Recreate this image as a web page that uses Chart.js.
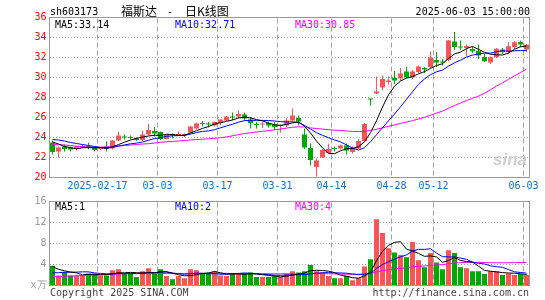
<!DOCTYPE html>
<html>
<head>
<meta charset="utf-8">
<script src="https://cdn.jsdelivr.net/npm/chart.js@4.4.1/dist/chart.umd.min.js"></script>
<style>
  html,body{margin:0;padding:0;background:#fff;}
  body{width:545px;height:300px;position:relative;overflow:hidden;}
  canvas{position:absolute;left:0;}
  .t{position:absolute;white-space:pre;font-family:"DejaVu Sans Mono",monospace;font-size:10px;line-height:12px;color:#000;}
  .cjk{position:absolute;white-space:pre;font-family:"Noto Sans CJK SC",sans-serif;font-size:12px;line-height:14px;color:#000;}
</style>
</head>
<body>
<canvas id="price" width="545" height="195" style="top:0"></canvas>
<canvas id="vol" width="545" height="110" style="top:190px"></canvas>

<div class="t" style="left:50px;top:6px">sh603173</div>
<div class="cjk" style="left:121px;top:4px">福斯达</div>
<div class="t" style="left:167px;top:6px">-</div>
<div class="cjk" style="left:185px;top:4px">日K线图</div>
<div class="t" style="right:15px;top:6px">2025-06-03 15:00:00</div>
<div class="t" style="left:55px;top:19px;color:#000">MA5:33.14</div>
<div class="t" style="left:175px;top:19px;color:#0000ff">MA10:32.71</div>
<div class="t" style="left:295px;top:19px;color:#ff00ff">MA30:30.85</div>
<div class="t" style="left:55px;top:201px;color:#000">MA5:1</div>
<div class="t" style="left:175px;top:201px;color:#0000ff">MA10:2</div>
<div class="t" style="left:295px;top:201px;color:#ff00ff">MA30:4</div>
<div class="t" style="left:50px;top:287px;color:#444">Copyright 2025 SINA.COM</div>
<div class="t" style="right:16px;top:287px;color:#444">http://finance.sina.com.cn</div>
<div style="position:absolute;left:493px;top:150px;font-family:'Liberation Sans',sans-serif;font-style:italic;font-weight:bold;font-size:17px;color:#cfcfcf;">sina</div>

<script>
const dates = [
 '2025-02-05','2025-02-06','2025-02-07','2025-02-10','2025-02-11','2025-02-12','2025-02-13','2025-02-14','2025-02-17','2025-02-18',
 '2025-02-19','2025-02-20','2025-02-21','2025-02-24','2025-02-25','2025-02-26','2025-02-27','2025-02-28','2025-03-03','2025-03-04',
 '2025-03-05','2025-03-06','2025-03-07','2025-03-10','2025-03-11','2025-03-12','2025-03-13','2025-03-14','2025-03-17','2025-03-18',
 '2025-03-19','2025-03-20','2025-03-21','2025-03-24','2025-03-25','2025-03-26','2025-03-27','2025-03-28','2025-03-31','2025-04-01',
 '2025-04-02','2025-04-03','2025-04-07','2025-04-08','2025-04-09','2025-04-10','2025-04-11','2025-04-14','2025-04-15','2025-04-16',
 '2025-04-17','2025-04-18','2025-04-21','2025-04-22','2025-04-23','2025-04-24','2025-04-25','2025-04-28','2025-04-29','2025-04-30',
 '2025-05-06','2025-05-07','2025-05-08','2025-05-09','2025-05-12','2025-05-13','2025-05-14','2025-05-15','2025-05-16','2025-05-19',
 '2025-05-20','2025-05-21','2025-05-22','2025-05-23','2025-05-26','2025-05-27','2025-05-28','2025-05-29','2025-05-30','2025-06-03'
];
const tickDates  = ['2025-02-17','2025-03-03','2025-03-17','2025-03-31','2025-04-14','2025-04-28','2025-05-12','2025-06-03'];
const tickLabels = ['2025-02-17','03-03','03-17','03-31','04-14','04-28','05-12','06-03'];

const opens = [
 23.5,22.6,23.1,23.0,22.85,23.0,23.1,23.0,22.85,23.1,
 22.9,23.7,24.05,24.0,23.9,23.75,24.3,24.65,24.55,23.85,
 24.25,24.2,24.2,24.5,24.9,25.4,25.35,25.2,25.45,25.7,
 26.05,26.1,26.3,25.8,25.3,25.3,25.45,25.3,25.15,25.2,
 25.7,25.95,24.3,22.95,21.05,22.0,22.45,22.9,22.9,23.2,
 22.55,22.9,23.65,27.9,28.4,29.0,29.55,29.95,29.9,30.6,
 30.0,30.55,30.95,31.05,31.75,31.6,31.75,33.6,33.05,32.95,
 32.85,32.65,32.05,31.5,32.05,32.8,32.55,33.05,33.55,32.8
];
const highs = [
 23.7,23.1,23.3,23.1,23.2,23.3,23.5,23.1,23.05,23.6,
 23.75,24.55,24.3,24.2,24.0,24.7,25.35,25.05,24.6,24.35,
 24.4,24.6,24.4,25.15,25.5,25.65,25.55,25.6,25.85,26.15,
 26.5,26.7,26.5,26.05,25.55,25.6,25.6,25.55,25.3,25.95,
 26.9,26.2,24.9,23.4,21.9,22.85,23.4,23.1,23.3,23.4,
 23.1,23.85,25.45,27.9,30.1,30.2,30.1,30.65,30.95,31.05,
 30.75,31.2,31.05,32.6,32.55,31.85,33.75,34.55,33.7,33.3,
 33.1,33.3,32.35,32.1,32.95,32.95,33.55,33.65,33.7,33.35
];
const lows = [
 22.3,22.0,22.6,22.6,22.7,22.9,22.8,22.6,22.75,22.6,
 22.8,23.65,23.8,23.8,23.65,23.65,24.2,24.1,23.75,23.8,
 23.9,24.15,24.05,24.4,24.8,25.1,25.0,25.1,25.2,25.65,
 25.75,25.9,25.7,24.9,24.9,24.95,25.0,24.7,24.5,25.05,
 25.6,25.2,22.85,21.2,20.1,21.95,22.4,22.6,22.8,22.3,
 22.4,22.85,23.55,27.2,28.35,28.7,29.3,29.35,29.7,29.9,
 29.85,30.45,30.45,30.95,31.05,31.2,31.6,32.75,32.75,32.1,
 32.45,31.85,31.55,31.35,31.95,32.3,32.4,32.85,33.05,32.55
];
const closes = [
 22.55,23.0,22.85,22.8,23.1,23.15,23.05,22.75,22.95,22.85,
 23.7,24.2,24.0,23.95,23.75,24.3,24.75,24.4,23.85,24.3,
 24.2,24.35,24.35,25.1,25.4,25.35,25.3,25.55,25.8,26.1,
 26.0,26.35,25.9,25.45,25.25,25.4,25.2,25.05,25.2,25.7,
 26.2,25.6,23.0,21.75,21.7,22.75,22.85,22.85,23.2,22.7,
 22.95,23.65,25.35,27.8,28.6,29.85,29.7,29.7,30.4,30.05,
 30.6,31.1,30.8,32.0,31.5,31.5,33.7,33.05,33.0,33.15,
 32.63,32.2,31.63,32.03,32.87,32.53,33.13,33.53,33.3,33.27
];
const volumes = [
 3.75,1.9,2.6,1.9,1.9,1.9,2.3,2.3,1.9,1.9,
 2.9,3.1,2.3,2.3,1.6,2.7,3.3,2.3,3.1,1.8,
 1.2,1.8,1.4,3.1,2.9,2.3,2.3,2.7,1.9,1.8,
 2.3,2.3,2.3,2.5,1.6,1.6,1.6,1.8,1.6,2.3,
 2.7,2.5,2.7,3.9,2.7,2.5,1.8,1.4,1.4,1.8,
 1.0,1.4,3.6,5.0,12.6,10.0,7.1,6.3,5.8,5.4,
 8.3,4.8,3.5,6.2,4.4,3.1,6.7,6.2,3.5,3.3,
 2.7,2.7,2.2,2.7,2.7,2.0,2.3,2.0,2.2,2.0
];
const ma5 = [
 23.55,23.35,23.1,23.0,22.86,22.98,22.99,22.97,23.0,22.95,
 23.06,23.29,23.54,23.74,23.92,24.04,24.15,24.23,24.21,24.32,
 24.3,24.22,24.21,24.46,24.68,24.91,25.1,25.34,25.48,25.62,
 25.75,25.96,26.03,25.96,25.79,25.67,25.44,25.27,25.22,25.31,
 25.47,25.55,25.14,24.45,23.65,22.96,22.41,22.38,22.67,22.87,
 22.91,23.07,23.57,24.49,25.67,27.05,28.26,29.13,29.65,29.94,
 30.09,30.37,30.59,30.91,31.2,31.38,31.9,32.35,32.55,32.88,
 33.11,32.81,32.52,32.33,32.27,32.25,32.44,32.82,33.07,33.15
];
const ma10 = [
 23.8,23.75,23.65,23.5,23.4,23.3,23.2,23.1,23.0,22.91,
 23.02,23.14,23.26,23.37,23.44,23.55,23.72,23.89,23.98,24.12,
 24.17,24.19,24.22,24.34,24.5,24.61,24.66,24.78,24.97,25.15,
 25.33,25.53,25.69,25.72,25.71,25.71,25.7,25.65,25.59,25.55,
 25.57,25.5,25.21,24.84,24.48,24.22,23.98,23.76,23.56,23.26,
 22.94,22.74,22.98,23.58,24.27,24.98,25.67,26.35,27.07,27.81,
 28.57,29.32,29.86,30.28,30.57,30.74,31.14,31.47,31.73,32.04,
 32.24,32.35,32.44,32.44,32.58,32.68,32.62,32.67,32.7,32.71
];
const ma30 = [
 23.3,23.28,23.25,23.2,23.12,23.08,23.05,23.03,23.03,23.05,
 23.1,23.15,23.2,23.25,23.3,23.35,23.38,23.45,23.52,23.57,
 23.6,23.65,23.7,23.76,23.8,23.83,23.87,23.92,23.98,24.06,
 24.17,24.29,24.39,24.48,24.55,24.62,24.69,24.77,24.85,24.94,
 25.02,25.07,25.04,24.96,24.9,24.84,24.78,24.73,24.71,24.65,
 24.61,24.59,24.62,24.71,24.82,24.97,25.12,25.25,25.41,25.54,
 25.69,25.85,26.01,26.23,26.44,26.64,26.93,27.19,27.45,27.7,
 27.92,28.14,28.42,28.77,29.14,29.46,29.81,30.16,30.5,30.85
];
const volMa5 = [
 3.6,3.1,2.8,2.55,2.41,2.04,2.12,2.06,2.06,2.06,
 2.26,2.42,2.42,2.5,2.44,2.4,2.44,2.44,2.6,2.64,
 2.34,2.04,1.86,1.86,2.08,2.3,2.4,2.66,2.42,2.2,
 2.2,2.2,2.12,2.24,2.2,2.06,1.92,1.82,1.64,1.78,
 2.0,2.18,2.36,2.82,2.9,2.86,2.72,2.46,1.96,1.78,
 1.48,1.4,1.84,2.56,4.72,6.52,7.66,8.2,8.36,6.92,
 6.58,6.12,5.56,5.64,5.44,4.4,4.78,5.32,4.78,4.56,
 4.48,3.68,2.88,2.72,2.6,2.46,2.38,2.34,2.24,2.1
];
const volMa10 = [
 2.4,2.45,2.5,2.55,2.55,2.6,2.6,2.4,2.3,2.24,
 2.15,2.27,2.24,2.28,2.25,2.33,2.43,2.43,2.55,2.54,
 2.37,2.24,2.15,2.23,2.36,2.32,2.22,2.26,2.14,2.14,
 2.25,2.3,2.39,2.33,2.2,2.13,2.06,1.97,1.94,1.99,
 2.03,2.05,2.09,2.23,2.34,2.43,2.45,2.41,2.39,2.34,
 2.17,2.06,2.15,2.26,3.25,4.0,4.53,5.02,5.46,5.82,
 6.55,6.89,6.88,7.0,6.18,5.49,5.45,5.44,5.21,5.0,
 4.44,4.23,4.1,3.75,3.58,3.47,3.03,2.61,2.48,2.35
];
const volMa30 = [
 1.65,1.7,1.75,1.8,1.85,1.9,1.95,2.0,2.05,2.1,
 2.15,2.2,2.25,2.28,2.3,2.3,2.3,2.3,2.3,2.3,
 2.3,2.3,2.3,2.3,2.3,2.3,2.3,2.3,2.3,2.31,
 2.26,2.27,2.26,2.28,2.27,2.26,2.24,2.22,2.21,2.22,
 2.22,2.2,2.21,2.26,2.3,2.29,2.24,2.21,2.16,2.16,
 2.15,2.14,2.21,2.27,2.6,2.85,3.01,3.13,3.26,3.38,
 3.58,3.67,3.71,3.83,3.92,3.97,4.14,4.29,4.35,4.39,
 4.39,4.39,4.38,4.34,4.34,4.32,4.34,4.36,4.38,4.39
];

const RED = '#f65656', GREEN = '#00a800';
const barColors = closes.map((c, i) => c >= opens[i] ? RED : GREEN);
const tickIdx = tickDates.map(d => dates.indexOf(d));
const MONO = '"DejaVu Sans Mono", monospace';

// dashed date grid lines (at the left edge of each labelled day), placed with the x scale
function drawDateLines(chart) {
  const { ctx, chartArea: a } = chart;
  const xs = chart.scales.x;
  const w = (a.right - a.left) / dates.length;
  ctx.save();
  ctx.strokeStyle = '#a0a0a0';
  ctx.lineWidth = 1;
  ctx.setLineDash([5, 3]);
  for (let k = 0; k < tickIdx.length; k++) {
    const x = Math.round(xs.getPixelForTick(tickIdx[k]) - w / 2) - 0.5;
    ctx.beginPath();
    ctx.moveTo(x, a.top + 1);
    ctx.lineTo(x, a.bottom);
    ctx.stroke();
  }
  ctx.restore();
}

const framePlugin = {
  id: 'frame',
  beforeDatasetsDraw(chart) { drawDateLines(chart); },
  afterDraw(chart) {
    const { ctx, chartArea: a } = chart;
    ctx.save();
    ctx.strokeStyle = '#999999';
    ctx.lineWidth = 1;
    ctx.strokeRect(a.left, a.top, a.right - a.left, a.bottom - a.top);
    ctx.restore();
  }
};

function xScale(showLabels, h) {
  return {
    type: 'category',
    offset: true,
    grid: { display: false, offset: true, drawTicks: false },
    border: { display: false },
    ticks: {
      display: showLabels, autoSkip: false, maxRotation: 0, minRotation: 0,
      padding: 3, labelOffset: -3, color: '#1a6fc0',
      font: { family: MONO, size: 10 },
      callback: (v, i) => { const k = tickDates.indexOf(dates[i]); return k >= 0 ? tickLabels[k] : ''; }
    },
    afterFit: s => { s.height = h; }
  };
}

function line(data, color) {
  return { type: 'line', data, borderColor: color, borderWidth: 1, pointRadius: 0, fill: false, tension: 0 };
}

new Chart(document.getElementById('price'), {
  type: 'bar',
  data: {
    labels: dates,
    datasets: [
      line(ma5, '#000000'),
      line(ma10, '#0000ff'),
      line(ma30, '#ff00ff'),
      { data: opens.map((o, i) => [o, closes[i]]), backgroundColor: barColors, barThickness: 5, grouped: false, minBarLength: 1, inflateAmount: 0, borderWidth: 0 },
      { data: lows.map((l, i) => [l, highs[i]]), backgroundColor: barColors, barThickness: 1, grouped: false, inflateAmount: 0, borderWidth: 0 }
    ]
  },
  options: {
    responsive: false, animation: false, devicePixelRatio: 1, events: [],
    layout: { padding: { left: 0, right: 15.5, top: 17.5, bottom: 0 } },
    plugins: { legend: { display: false }, tooltip: { enabled: false } },
    scales: {
      x: xScale(true, 17.5),
      y: {
        min: 20, max: 36,
        ticks: { stepSize: 2, color: '#ff0000', padding: 3, font: { family: MONO, size: 10 } },
        grid: { drawTicks: false, color: c => (c.tick && (c.tick.value === 20 || c.tick.value === 36)) ? 'rgba(0,0,0,0)' : '#aaaaaa' },
        border: { display: false, dash: [1, 2] },
        afterFit: s => { s.width = 49.5; }
      }
    }
  },
  plugins: [framePlugin]
});

new Chart(document.getElementById('vol'), {
  type: 'bar',
  data: {
    labels: dates,
    datasets: [
      line(volMa5, '#000000'),
      line(volMa10, '#0000ff'),
      line(volMa30, '#ff00ff'),
      { data: volumes, backgroundColor: barColors, barThickness: 5, grouped: false, inflateAmount: 0, borderWidth: 0 }
    ]
  },
  options: {
    responsive: false, animation: false, devicePixelRatio: 1, events: [],
    layout: { padding: { left: 0, right: 15.5, top: 11.5, bottom: 0 } },
    plugins: { legend: { display: false }, tooltip: { enabled: false } },
    scales: {
      x: xScale(false, 14.5),
      y: {
        min: 0, max: 16,
        ticks: { stepSize: 4, color: '#999999', padding: 3, font: { family: MONO, size: 10 },
                 callback: v => v === 0 ? 'x万' : String(v) },
        grid: { drawTicks: false, color: c => (c.tick && (c.tick.value === 0 || c.tick.value === 16)) ? 'rgba(0,0,0,0)' : '#aaaaaa' },
        border: { display: false, dash: [1, 2] },
        afterFit: s => { s.width = 49.5; }
      }
    }
  },
  plugins: [framePlugin]
});
</script>
</body>
</html>
